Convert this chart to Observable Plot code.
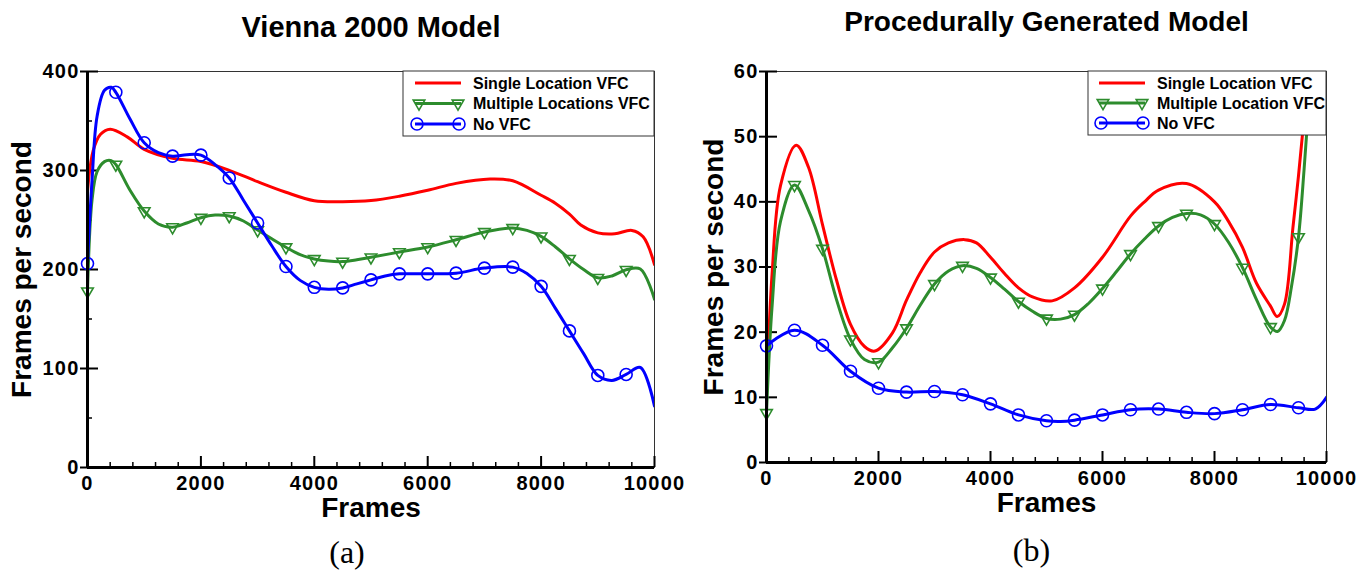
<!DOCTYPE html>
<html>
<head>
<meta charset="utf-8">
<script src="https://cdn.jsdelivr.net/npm/d3@7"></script>
<script src="https://cdn.jsdelivr.net/npm/@observablehq/plot@0.6"></script>
<style>
  html, body { margin: 0; padding: 0; background: #fff; }
  body { width: 1368px; height: 570px; position: relative; overflow: hidden; }
  svg.chart { position: absolute; top: 0; }
  svg.chart g[aria-label="x-axis tick label"] text,
  svg.chart g[aria-label="y-axis tick label"] text { letter-spacing: 1.2px; }
</style>
</head>
<body>
<script>
// ---------------- Data ----------------
const xMajorTicks = [0, 2000, 4000, 6000, 8000, 10000];
const xMinorTicks = [400, 800, 1200, 1600, 2400, 2800, 3200, 3600, 4400, 4800, 5200, 5600, 6400, 6800, 7200, 7600, 8400, 8800, 9200, 9600];
const viennaYMajor = [0, 100, 200, 300, 400];
const viennaYMinor = [50, 150, 250, 350];
const procYMajor = [0, 10, 20, 30, 40, 50, 60];

const seriesNames = ["Single Location VFC", "Multiple Locations VFC", "No VFC"];
const seriesNamesB = ["Single Location VFC", "Multiple Location VFC", "No VFC"];

// (a) Vienna 2000 Model
const viennaSingleFrames = [0, 100, 230, 400, 700, 1000, 1500, 2000, 2500, 3000, 3500, 4000, 4500, 5000, 5500, 6000, 6500, 7100, 7500, 8000, 8250, 8500, 8700, 9000, 9300, 9600, 9800, 10000];
const viennaSingleFps    = [279, 320, 336.6, 341.7, 334, 321.4, 312.3, 309, 300.2, 288.7, 278, 269.5, 268.5, 269.6, 274, 280, 287, 291.4, 289.6, 275, 267, 256, 245, 237, 236, 239.5, 233, 205];

const viennaMultiFrames = [0, 80, 170, 300, 420, 500, 750, 1000, 1250, 1500, 1750, 2000, 2250, 2500, 2750, 3000, 3250, 3500, 3750, 4000, 4250, 4500, 4750, 5000, 5500, 6000, 6500, 7000, 7500, 7750, 8000, 8250, 8500, 8750, 9000, 9250, 9500, 9750, 10000];
const viennaMultiFps    = [178, 270, 299, 309, 310, 306, 280, 259, 246, 242.8, 247, 252.3, 255, 254, 249, 239.8, 231, 222.5, 215, 210.6, 208.5, 208, 209.8, 212.3, 217.6, 222.7, 230, 237.9, 242, 239.5, 233.5, 223, 210.8, 200, 191.6, 193.5, 199.7, 200.5, 170];

const viennaNoFrames = [0, 80, 170, 300, 420, 500, 750, 1000, 1250, 1500, 1750, 2000, 2250, 2500, 2750, 3000, 3250, 3500, 3750, 4000, 4250, 4500, 4750, 5000, 5250, 5500, 6000, 6500, 7000, 7500, 7750, 8000, 8250, 8500, 8750, 9000, 9250, 9500, 9750, 10000];
const viennaNoFps    = [206, 290, 355, 381, 384, 379, 352, 328, 318, 314.5, 316, 315.5, 306, 292.5, 270, 247, 224, 203, 189, 182, 180, 181.4, 185.5, 189.5, 193.5, 195.6, 195.6, 196.3, 201.4, 202.4, 196, 183, 161, 138, 115, 93, 88, 94, 101, 62];

// (b) Procedurally Generated Model
const procSingleFrames = [0, 100, 250, 530, 750, 1000, 1250, 1500, 1750, 1935, 2250, 2500, 2750, 3000, 3250, 3540, 3750, 4000, 4250, 4500, 4750, 5100, 5500, 6000, 6500, 6750, 7000, 7500, 8000, 8250, 8500, 8750, 9000, 9120, 9250, 9400, 9500, 9600, 9700, 9850, 10000];
const procSingleFps    = [10.2, 29, 42.5, 48.7, 45.3, 36.5, 28, 21.2, 17.8, 17.1, 19.9, 24.9, 29.2, 32.3, 33.7, 34.2, 33.7, 31.5, 29, 26.8, 25.4, 24.8, 26.8, 31.5, 37.8, 40, 41.8, 42.8, 40, 37, 33, 27.5, 24, 22.4, 24.3, 36, 44, 53, 62, 75, 88];

const procMultiFrames = [0, 100, 250, 500, 750, 1000, 1250, 1500, 1750, 2000, 2250, 2500, 2750, 3000, 3250, 3500, 3750, 4000, 4250, 4500, 4750, 5000, 5250, 5500, 5750, 6000, 6250, 6500, 6750, 7000, 7250, 7500, 7750, 8000, 8250, 8500, 8750, 9000, 9125, 9250, 9375, 9500, 9600, 9700, 9850, 10000];
const procMultiFps    = [7.6, 24, 37, 42.6, 38.7, 32.8, 25, 18.9, 15.8, 15.4, 17.6, 20.6, 24.2, 27.4, 29.4, 30.2, 29.8, 28.4, 26.6, 24.7, 23.2, 22.1, 22, 22.7, 24.4, 26.7, 29.3, 32, 34.3, 36.3, 37.6, 38.2, 38, 36.6, 33.8, 29.9, 25, 20.8, 20.1, 21.8, 27, 34.6, 45, 57, 72, 88];

const procNoFrames = [0, 500, 1000, 1500, 2000, 2500, 3000, 3500, 4000, 4500, 5000, 5250, 5500, 6000, 6500, 7000, 7500, 8000, 8500, 9000, 9500, 9800, 10000];
const procNoFps    = [17.9, 20.3, 18, 14, 11.4, 10.8, 10.9, 10.4, 9, 7.3, 6.4, 6.3, 6.5, 7.3, 8.1, 8.2, 7.7, 7.5, 8.1, 8.9, 8.4, 8.2, 10];

// ---------------- Helpers ----------------
const RED = "#ff0000", GREEN = "#2d8c2d", BLUE = "#0000ff";
const SANS = "'Liberation Sans', Arial, Helvetica, sans-serif";
const SERIF = "'Liberation Serif', 'Times New Roman', serif";

const toRows = (frames, fps) => frames.map((f, i) => ({frame: f, fps: fps[i]}));
const markerRows = rows => rows.filter(d => d.frame % 500 === 0 && d.frame < 10000);

function makeChart(cfg) {
  const W = 684, H = 570;
  const plotW = W - cfg.ml - cfg.mr;
  const plotH = H - cfg.mt - cfg.mb;
  const [red, green, blue] = cfg.series;
  const txt = {textAnchor: "middle", lineAnchor: "middle", fill: "black", text: d => d};
  const marks = [
    Plot.frame({stroke: "#333", strokeWidth: 1}),
    // minor / major ticks (inward)
    Plot.ruleX(xMinorTicks, {stroke: "black", strokeWidth: 1.5, insetTop: plotH - 5}),
    Plot.ruleX(xMajorTicks, {stroke: "black", strokeWidth: 2, insetTop: plotH - 11}),
    ...(cfg.yMinor ? [Plot.ruleY(cfg.yMinor, {stroke: "black", strokeWidth: 1.5, insetRight: plotW - 5})] : []),
    Plot.ruleY(cfg.yMajor, {stroke: "black", strokeWidth: 2, insetRight: plotW - 11, insetLeft: -7}),
    // tick labels
    Plot.axisX(xMajorTicks, {tickSize: 0, tickPadding: 8, tickFormat: d => String(d), label: null,
      fontSize: 20, fontWeight: "bold"}),
    Plot.axisY(cfg.yMajor, {tickSize: 0, tickPadding: 8, tickFormat: d => String(d), label: null,
      fontSize: 20, fontWeight: "bold"}),
    // data
    Plot.line(red, {x: "frame", y: "fps", stroke: RED, strokeWidth: 3, curve: "catmull-rom", clip: true}),
    Plot.line(green, {x: "frame", y: "fps", stroke: GREEN, strokeWidth: 3, curve: "catmull-rom", clip: true}),
    Plot.dot(markerRows(green), {x: "frame", y: "fps", symbol: "triangle", rotate: 180, r: 4.3,
      stroke: GREEN, strokeWidth: 1.6, fill: "none"}),
    Plot.line(blue, {x: "frame", y: "fps", stroke: BLUE, strokeWidth: 3, curve: "catmull-rom", clip: true}),
    Plot.dot(markerRows(blue), {x: "frame", y: "fps", r: 6, stroke: BLUE, strokeWidth: 1.6, fill: "none"}),
    // axes lines
    Plot.ruleX([0], {stroke: "black", strokeWidth: 3}),
    Plot.ruleY([0], {stroke: "black", strokeWidth: 3}),
    // texts
    Plot.text([cfg.title], {...txt, frameAnchor: "top", dy: cfg.titleDy, fontSize: cfg.titleSize, fontWeight: "bold"}),
    Plot.text(["Frames"], {...txt, frameAnchor: "bottom", dy: 41, fontSize: 28, fontWeight: "bold"}),
    Plot.text(["Frames per second"], {...txt, frameAnchor: "left", dx: cfg.yLabelDx, rotate: -90,
      fontSize: 28, fontWeight: "bold"}),
    Plot.text([cfg.caption], {...txt, frameAnchor: "bottom", dx: cfg.capDx, dy: cfg.capDy, fontSize: 32,
      fontFamily: SERIF, fontWeight: "normal"})
  ];
  const svg = Plot.plot({
    width: W, height: H,
    marginLeft: cfg.ml, marginRight: cfg.mr, marginTop: cfg.mt, marginBottom: cfg.mb,
    x: {domain: [0, 10000]},
    y: {domain: [0, cfg.yMax]},
    style: {background: "white", fontFamily: SANS, color: "black", overflow: "visible"},
    marks
  });
  svg.classList.add("chart");
  svg.style.left = cfg.left + "px";
  svg.style.position = "absolute";
  svg.style.top = "0px";

  // Legend box in the top-right corner of the frame
  const g = d3.select(svg).append("g");
  const bx = W - cfg.mr - cfg.legW, by = cfg.mt;
  g.append("rect").attr("x", bx).attr("y", by).attr("width", cfg.legW).attr("height", cfg.legH)
    .attr("fill", "white").attr("stroke", "#333").attr("stroke-width", 1);
  const rowsY = cfg.legRows;
  const colors = [RED, GREEN, BLUE];
  const sx0 = bx + cfg.legSample, sx1 = sx0 + 46;
  cfg.names.forEach((name, i) => {
    const y = by + rowsY[i];
    g.append("line").attr("x1", sx0).attr("x2", sx1).attr("y1", y).attr("y2", y)
      .attr("stroke", colors[i]).attr("stroke-width", 3);
    if (i === 1) {
      const tri = d3.symbol(d3.symbolTriangle, Math.PI * 4.3 * 4.3)();
      [sx0 + 4, sx1 - 3].forEach(x => g.append("path").attr("d", tri)
        .attr("transform", `translate(${x},${y}) rotate(180)`)
        .attr("fill", "none").attr("stroke", GREEN).attr("stroke-width", 1.6));
    }
    if (i === 2) {
      [sx0 + 2, sx1 - 2].forEach(x => g.append("circle").attr("cx", x).attr("cy", y).attr("r", 6)
        .attr("fill", "none").attr("stroke", BLUE).attr("stroke-width", 1.6));
    }
    g.append("text").attr("x", bx + cfg.legText).attr("y", y).attr("dy", "0.36em")
      .attr("text-anchor", "start")
      .attr("font-family", SANS).attr("font-weight", "bold").attr("font-size", 16)
      .attr("fill", "black").text(name);
  });
  document.body.appendChild(svg);
}

makeChart({
  left: 0, ml: 87, mr: 30, mt: 71, mb: 103,
  yMax: 400, yMajor: viennaYMajor, yMinor: viennaYMinor,
  series: [toRows(viennaSingleFrames, viennaSingleFps), toRows(viennaMultiFrames, viennaMultiFps), toRows(viennaNoFrames, viennaNoFps)],
  title: "Vienna 2000 Model", titleSize: 29, titleDy: -44,
  yLabelDx: -65, caption: "(a)", capDx: -24, capDy: 85,
  names: seriesNames, legW: 251, legH: 65, legRows: [12, 32.5, 53], legSample: 12, legText: 70
});

makeChart({
  left: 684, ml: 82, mr: 42, mt: 71, mb: 108,
  yMax: 60, yMajor: procYMajor, yMinor: null,
  series: [toRows(procSingleFrames, procSingleFps), toRows(procMultiFrames, procMultiFps), toRows(procNoFrames, procNoFps)],
  title: "Procedurally Generated Model", titleSize: 28, titleDy: -49,
  yLabelDx: -52, caption: "(b)", capDx: -15, capDy: 88,
  names: seriesNamesB, legW: 238, legH: 64, legRows: [12, 32, 52], legSample: 11, legText: 69
});
</script>
</body>
</html>
